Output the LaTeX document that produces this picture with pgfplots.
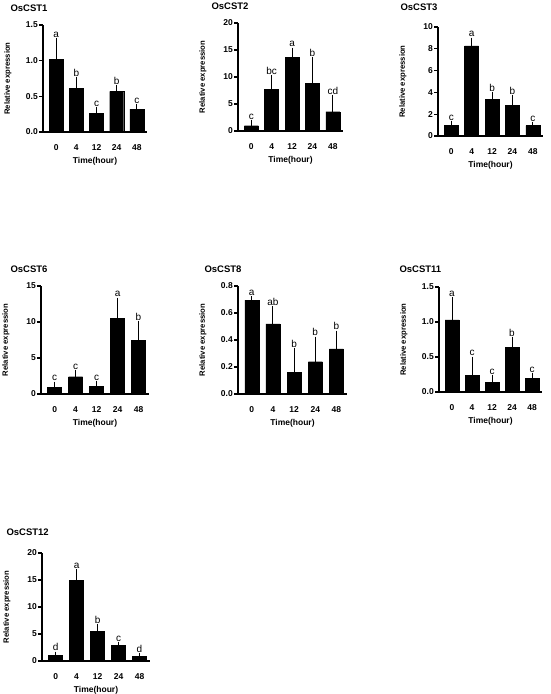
\documentclass[border=0pt]{standalone}
\usepackage{fontspec}
\setmainfont{Liberation Sans}
\usepackage{pgfplots}
\usepackage{pgfplotstable}
\pgfplotsset{compat=1.18}

\pgfplotstableread{
x m e t l
0 1.02 0.25 1.27 a
1 0.61 0.11 0.72 b
2 0.26 0.035 0.295 c
3 0.57 0.035 0.605 b
4 0.32 0.02 0.34 c
}\tA
\pgfplotstableread{
x m e t l
0 0.98 0.42 1.40 c
1 7.75 1.95 9.70 bc
2 13.6 1.2 14.8 a
3 8.86 4.19 13.05 b
4 3.57 2.46 6.03 cd
}\tB
\pgfplotstableread{
x m e t l
0 0.95 0.07 1.02 c
1 8.28 0.42 8.70 a
2 3.38 0.32 3.70 b
3 2.80 0.65 3.45 b
4 0.95 0.03 0.98 c
}\tC
\pgfplotstableread{
x m e t l
0 0.97 0.28 1.25 c
1 2.40 0.47 2.87 c
2 1.11 0.19 1.30 c
3 10.5 2.4 12.9 a
4 7.45 2.18 9.63 b
}\tD
\pgfplotstableread{
x m e t l
0 0.695 0.005 0.70 a
1 0.52 0.105 0.625 ab
2 0.158 0.155 0.313 b
3 0.239 0.161 0.40 b
4 0.335 0.108 0.443 b
}\tE
\pgfplotstableread{
x m e t l
0 1.03 0.28 1.31 a
1 0.238 0.219 0.457 c
2 0.138 0.052 0.19 c
3 0.633 0.105 0.738 b
4 0.20 0.024 0.224 c
}\tF
\pgfplotstableread{
x m e t l
0 1.05 0.05 1.10 d
1 14.9 1.4 16.3 a
2 5.55 0.62 6.17 b
3 2.84 0.06 2.90 c
4 0.80 0.06 0.86 d
}\tG

\pgfplotsset{
  panel/.style={
    scale only axis, anchor=south west, height=108pt,
    axis x line=bottom, axis y line=left,
    axis line style={-, line width=1.2pt, black},
    xmin=-0.65, xmax=4.5, ymin=0,
    xtick={0,1,2,3,4}, xticklabels={0,4,12,24,48},
    x tick style={draw=none},
    tick align=outside, major tick length=4pt,
    y tick style={line width=1.2pt, black},
    ticklabel style={font=\fontsize{8.5}{9}\selectfont\bfseries},
    /pgf/number format/assume math mode=true,
    xticklabel style={anchor=base, yshift=-14pt},
    yticklabel style={inner sep=1pt},
    xlabel={Time(hour)}, ylabel={Relative expression},
    xlabel style={at={(axis description cs:0.5,0)}, anchor=center, yshift=-29pt, font=\fontsize{8.5}{9}\selectfont\bfseries},
    ylabel style={at={([xshift=-35pt]axis description cs:0,0.5)}, anchor=center, font=\fontsize{7.7}{8}\selectfont\bfseries},
    clip=false,
  },
  ttl/.style 2 args={title style={at={(axis description cs:0,1)}, anchor=base west, xshift=#1, yshift=#2, font=\fontsize{9.5}{10}\selectfont\bfseries}},
  dec/.style={yticklabel style={/pgf/number format/.cd, fixed, fixed zerofill, precision=1}},
  barplot/.style={ybar, bar width=14pt, fill=black, draw=black,
    error bars/.cd, y dir=plus, y explicit,
    error bar style={line width=1pt, black},
    error mark options={line width=1pt, mark size=3.5pt, black}},
  letters/.style={draw=none, mark=none, nodes near coords, point meta=explicit symbolic,
    nodes near coords style={anchor=south, inner sep=0pt, yshift=4pt, font=\fontsize{10}{11}\selectfont, black}},
}

\begin{document}
\begin{tikzpicture}
\useasboundingbox (0,0) rectangle (550pt,-694pt);

% OsCST1
\begin{axis}[panel, at={(43pt,-132pt)}, width=104pt, height=107pt, ymax=1.5, ytick={0,0.5,1,1.5}, dec,
  title={OsCST1}, ttl={-36pt}{8pt}]
\addplot[barplot] table[x=x, y=m, y error=e] {\tA};
\addplot[letters] table[x=x, y=t, meta=l] {\tA};
\end{axis}

% OsCST2
\begin{axis}[panel, at={(238pt,-131pt)}, width=105pt, ymax=20, ytick={0,5,10,15,20},
  title={OsCST2}, ttl={-30pt}{8pt}]
\addplot[barplot] table[x=x, y=m, y error=e] {\tB};
\addplot[letters] table[x=x, y=t, meta=l] {\tB};
\end{axis}

% OsCST3
\begin{axis}[panel, at={(438pt,-136pt)}, width=105pt, height=109pt, ymax=10, ytick={0,2,4,6,8,10},
  title={OsCST3}, ttl={-41pt}{10.5pt}]
\addplot[barplot] table[x=x, y=m, y error=e] {\tC};
\addplot[letters] table[x=x, y=t, meta=l] {\tC};
\end{axis}

% OsCST6
\begin{axis}[panel, at={(41pt,-394pt)}, width=108pt, ymax=15, ytick={0,5,10,15},
  title={OsCST6}, ttl={-34pt}{7.5pt}]
\addplot[barplot] table[x=x, y=m, y error=e] {\tD};
\addplot[letters] table[x=x, y=t, meta=l] {\tD};
\end{axis}

% OsCST8
\begin{axis}[panel, at={(238pt,-394pt)}, width=109pt, ymax=0.8, ytick={0,0.2,0.4,0.6,0.8}, dec,
  title={OsCST8}, ttl={-37pt}{7.5pt}]
\addplot[barplot] table[x=x, y=m, y error=e] {\tE};
\addplot[letters] table[x=x, y=t, meta=l] {\tE};
\end{axis}

% OsCST11
\begin{axis}[panel, at={(439pt,-392pt)}, width=103pt, height=105pt, ymax=1.5, ytick={0,0.5,1,1.5}, dec,
  title={OsCST11}, ttl={-43pt}{8.5pt}]
\addplot[barplot] table[x=x, y=m, y error=e] {\tF};
\addplot[letters] table[x=x, y=t, meta=l] {\tF};
\end{axis}

% OsCST12
\begin{axis}[panel, at={(42pt,-661pt)}, width=108pt, ymax=20, ytick={0,5,10,15,20},
  title={OsCST12}, ttl={-39pt}{11.5pt}]
\addplot[barplot] table[x=x, y=m, y error=e] {\tG};
\addplot[letters] table[x=x, y=t, meta=l] {\tG};
\end{axis}

\end{tikzpicture}
\end{document}
